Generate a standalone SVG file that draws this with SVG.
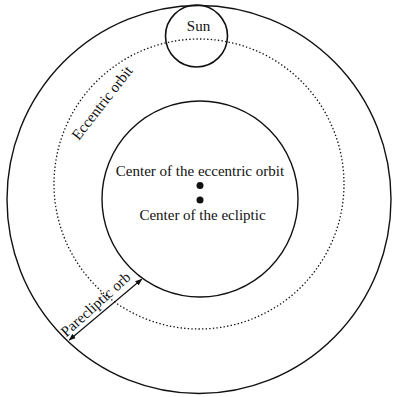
<svg xmlns="http://www.w3.org/2000/svg" width="393" height="397" viewBox="0 0 393 397">
<style>
.c{fill:none;stroke:#111;stroke-width:1.4}
.d{fill:none;stroke:#111;stroke-width:1.3;stroke-dasharray:1.4 2.2}
.t{font-family:"Liberation Serif","Times New Roman",serif;font-size:15px;fill:#111}
</style>
<defs>
<marker id="ah" viewBox="0 0 10 10" refX="9" refY="5" markerWidth="7" markerHeight="7" orient="auto-start-reverse" markerUnits="userSpaceOnUse">
<path d="M0,1 L10,5 L0,9 Z" fill="#111"/>
</marker>
</defs>
<rect width="393" height="397" fill="#fff"/>
<g id="outer-orbit"><ellipse class="c" cx="199" cy="199.5" rx="192" ry="194"/></g>
<g id="eccentric-orbit">
<circle class="d" cx="199" cy="184" r="145"/>
<text class="t" x="106" y="106" text-anchor="middle" transform="rotate(-52 106 106)">Eccentric orbit</text>
</g>
<g id="inner-circle"><circle class="c" cx="200" cy="199" r="98"/></g>
<g id="sun">
<circle cx="196.5" cy="36" r="31" fill="none" stroke="#111" stroke-width="1.6"/>
<text class="t" x="198.5" y="31" text-anchor="middle">Sun</text>
</g>
<g id="eccentric-center">
<circle cx="200" cy="185.5" r="3.5" fill="#111"/>
<text class="t" x="200" y="176" text-anchor="middle">Center of the eccentric orbit</text>
</g>
<g id="ecliptic-center">
<circle cx="200" cy="200" r="3.5" fill="#111"/>
<text class="t" x="202.5" y="220" text-anchor="middle">Center of the ecliptic</text>
</g>
<g id="connectors">
<line x1="141.7" y1="279.3" x2="69.3" y2="340" stroke="#111" stroke-width="1.2" marker-start="url(#ah)" marker-end="url(#ah)"/>
</g>
<g id="pareclipctic-label">
<text class="t" x="99" y="308" text-anchor="middle" transform="rotate(-42 99 308)">Parecliptic orb</text>
</g>
</svg>
